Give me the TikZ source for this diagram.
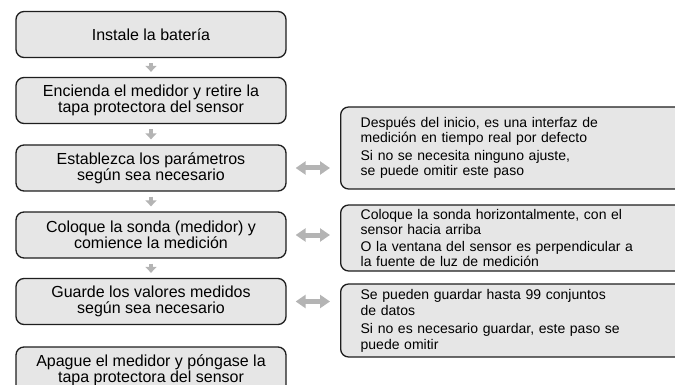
\documentclass[tikz,border=0pt]{standalone}
\usepackage{fontspec}
\setmainfont{Liberation Sans}
\usetikzlibrary{arrows.meta}
\definecolor{boxgray}{HTML}{E6E6E6}
\definecolor{arrowgray}{HTML}{B4B4B4}
\definecolor{edgegray}{HTML}{1E1E1E}
\begin{document}
\begin{tikzpicture}[x=1pt,y=-1pt,
  stepbox/.style={draw=edgegray, line width=1.3pt, fill=boxgray, rounded corners=8pt,
    minimum width=270pt, minimum height=46pt, align=center, inner sep=0pt,
    font=\fontsize{16}{16}\selectfont},
  notebox/.style={draw=edgegray, line width=1.3pt, fill=boxgray, rounded corners=8pt,
    anchor=west, text width=320pt, inner xsep=20pt, inner ysep=0pt, align=left,
    font=\fontsize{14}{15.3}\selectfont},
  downarrow/.style={draw=arrowgray, line width=4pt, -{Triangle[width=11pt,length=6pt]},
    shorten <=5pt, shorten >=5pt},
  dblarrow/.style={draw=arrowgray, line width=5pt,
    {Triangle[width=13pt,length=10pt]}-{Triangle[width=13pt,length=10pt]},
    shorten <=9pt, shorten >=10pt}]
\useasboundingbox (0,0) rectangle (675,385);
\clip (0,0) rectangle (675,385);

\node[stepbox] (s1) at (151,34.5) {Instale la batería};
\node[stepbox] (s2) at (151,100.5) {Encienda el medidor y retire la\\tapa protectora del sensor};
\node[stepbox] (s3) at (151,168) {Establezca los parámetros\\según sea necesario};
\node[stepbox] (s4) at (151,235) {Coloque la sonda (medidor) y\\comience la medición};
\node[stepbox] (s5) at (151,301.5) {Guarde los valores medidos\\según sea necesario};
\node[stepbox] (s6) at (151,370) {Apague el medidor y póngase la\\tapa protectora del sensor};

\node[notebox, minimum height=82pt] (nA) at (340,148)
  {Después del inicio, es una interfaz de\\medición en tiempo real por defecto\\[2.5pt]Si no se necesita ninguno ajuste,\\se puede omitir este paso};
\node[notebox, minimum height=66pt] (nB) at (340,238)
  {Coloque la sonda horizontalmente, con el\\sensor hacia arriba\\[2pt]O la ventana del sensor es perpendicular a\\la fuente de luz de medición};
\node[notebox, minimum height=73pt] (nC) at (340,320.5)
  {Se pueden guardar hasta 99 conjuntos\\[1.5pt]de datos\\[2.5pt]Si no es necesario guardar, este paso se\\puede omitir};

\draw[downarrow] (s1) -- (s2);
\draw[downarrow] (s2) -- (s3);
\draw[downarrow] (s3) -- (s4);
\draw[downarrow] (s4) -- (s5);

\draw[dblarrow] (s3.east) -- (s3.east -| nA.west);
\draw[dblarrow] (s4.east) -- (s4.east -| nB.west);
\draw[dblarrow] (s5.east) -- (s5.east -| nC.west);
\end{tikzpicture}
\end{document}
